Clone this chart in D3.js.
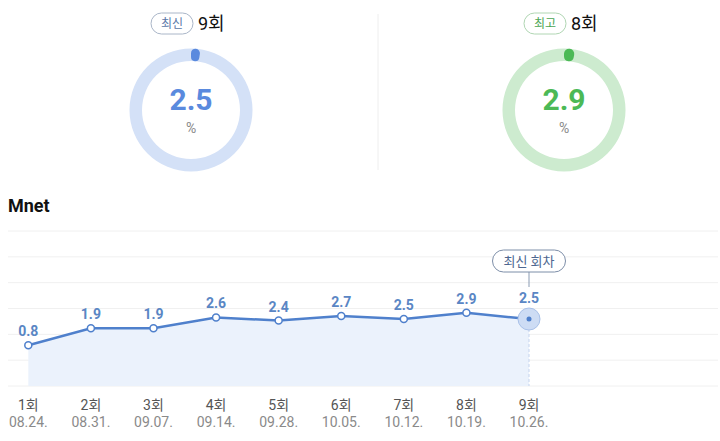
<!DOCTYPE html>
<html>
<head>
<meta charset="utf-8">
<script src="https://cdn.jsdelivr.net/npm/d3@7"></script>
<style>
  body { margin: 0; background: #fff; }
  svg text { font-family: Roboto, "Noto Sans CJK KR", sans-serif; }
</style>
</head>
<body>
<div id="chart"></div>
<script>
// episode data
var episodes = ['1회', '2회', '3회', '4회', '5회', '6회', '7회', '8회', '9회'];
var dates = ['08.24.', '08.31.', '09.07.', '09.14.', '09.28.', '10.05.', '10.12.', '10.19.', '10.26.'];
var ratings = [0.8, 1.9, 1.9, 2.6, 2.4, 2.7, 2.5, 2.9, 2.5];

// summary donuts
var summaryBadges = ['최신', '최고'];
var summaryEpisodes = ['9회', '8회'];
var summaryValues = [2.5, 2.9];

const width = 720
const height = 441

var svg = d3.select('#chart').append('svg')
  .attr('width', width)
  .attr('height', height);

// ---------- top donuts ----------
var donutStyles = [
  {cx: 191, track: '#d4e1f7', main: '#5a8ade', badgeText: '#5a78a8', badgeStroke: '#aab6c8'},
  {cx: 564, track: '#cdebcf', main: '#4cb956', badgeText: '#4aa552', badgeStroke: '#b0d6b3'}
];
var donutCy = 110;
var outerR = 61.5, innerR = 49;

var arc = d3.arc()
  .innerRadius(innerR)
  .outerRadius(outerR)
  .cornerRadius(6);

summaryValues.forEach(function(v, i) {
  var st = donutStyles[i];
  var g = svg.append('g').attr('transform', `translate(${st.cx},${donutCy})`);

  g.append('path')
    .attr('d', arc({startAngle: 0, endAngle: 2 * Math.PI}))
    .attr('fill', st.track);

  g.append('path')
    .attr('d', arc({startAngle: 0, endAngle: v / 100 * 2 * Math.PI}))
    .attr('fill', st.main);

  g.append('text')
    .attr('text-anchor', 'middle')
    .attr('y', 0)
    .attr('fill', st.main)
    .style('font-size', '30px')
    .style('font-weight', 'bold')
    .text(v);

  g.append('text')
    .attr('text-anchor', 'middle')
    .attr('y', 23)
    .attr('fill', '#888')
    .style('font-size', '14px')
    .text('%');

  // badge + episode
  var bw = 42, bh = 21;
  var bx = st.cx - 40, by = 13;
  svg.append('rect')
    .attr('x', bx).attr('y', by)
    .attr('width', bw).attr('height', bh)
    .attr('rx', 10.5)
    .attr('fill', '#fff')
    .attr('stroke', st.badgeStroke);
  svg.append('text')
    .attr('x', bx + bw / 2).attr('y', by + 15)
    .attr('text-anchor', 'middle')
    .attr('fill', st.badgeText)
    .style('font-size', '12px')
    .text(summaryBadges[i]);
  svg.append('text')
    .attr('x', bx + bw + 5).attr('y', 30)
    .attr('fill', '#111')
    .style('font-size', '18px')
    .text(summaryEpisodes[i]);
});

// divider
svg.append('line')
  .attr('x1', 378).attr('x2', 378)
  .attr('y1', 14).attr('y2', 170)
  .attr('stroke', '#eeeeee');

// ---------- line chart ----------
svg.append('text')
  .attr('x', 8).attr('y', 212)
  .attr('fill', '#111')
  .style('font-size', '18px')
  .style('font-weight', 'bold')
  .text('Mnet');

var x = d3.scalePoint()
  .domain(episodes)
  .range([28.3, 529]);

var y = d3.scaleLinear()
  .domain([-1.83, 8.19])
  .range([386, 231]);

// gridlines
var gridY = d3.range(7).map(function(i) { return 231 + i * (386 - 231) / 6; });
svg.append('g').selectAll('line')
  .data(gridY)
  .enter().append('line')
  .attr('x1', 8).attr('x2', 718)
  .attr('y1', function(d) { return d; })
  .attr('y2', function(d) { return d; })
  .attr('stroke', '#f0f0f0');

var series = ratings.map(function(v, i) { return {ep: episodes[i], date: dates[i], v: v}; });

// area
var area = d3.area()
  .x(function(d) { return x(d.ep); })
  .y0(386)
  .y1(function(d) { return y(d.v); });

svg.append('path')
  .datum(series)
  .attr('d', area)
  .attr('fill', '#ebf2fc');

// dashed line under latest point
var last = series[series.length - 1];
svg.append('line')
  .attr('x1', x(last.ep)).attr('x2', x(last.ep))
  .attr('y1', y(last.v)).attr('y2', 386)
  .attr('stroke', '#c4d4ee')
  .attr('stroke-dasharray', '3,2');

var line = d3.line()
  .x(function(d) { return x(d.ep); })
  .y(function(d) { return y(d.v); });

svg.append('path')
  .datum(series)
  .attr('d', line)
  .attr('fill', 'none')
  .attr('stroke', '#4f80cc')
  .attr('stroke-width', 2.5);

// points
svg.append('g').selectAll('circle')
  .data(series.slice(0, -1))
  .enter().append('circle')
  .attr('cx', function(d) { return x(d.ep); })
  .attr('cy', function(d) { return y(d.v); })
  .attr('r', 3.5)
  .attr('fill', '#fff')
  .attr('stroke', '#4f80cc')
  .attr('stroke-width', 1.5);

// latest point highlight
svg.append('circle')
  .attr('cx', x(last.ep)).attr('cy', y(last.v))
  .attr('r', 11)
  .attr('fill', '#cddcf4')
  .attr('stroke', '#a9c1e8')
  .attr('stroke-width', 1);
svg.append('circle')
  .attr('cx', x(last.ep)).attr('cy', y(last.v))
  .attr('r', 2.5)
  .attr('fill', '#4f80cc');

// value labels
svg.append('g').selectAll('text')
  .data(series)
  .enter().append('text')
  .attr('x', function(d) { return x(d.ep); })
  .attr('y', function(d, i) { return y(d.v) - (i === series.length - 1 ? 16 : 9); })
  .attr('text-anchor', 'middle')
  .attr('fill', '#5a86c4')
  .style('font-size', '14px')
  .style('font-weight', 'bold')
  .text(function(d) { return d.v; });

// latest tooltip
var tipW = 73, tipH = 22;
var tipX = x(last.ep) - 36.5, tipY = 250;
svg.append('line')
  .attr('x1', x(last.ep)).attr('x2', x(last.ep))
  .attr('y1', tipY + tipH).attr('y2', 287)
  .attr('stroke', '#8a9bb3');
svg.append('rect')
  .attr('x', tipX).attr('y', tipY)
  .attr('width', tipW).attr('height', tipH)
  .attr('rx', 11)
  .attr('fill', '#fff')
  .attr('stroke', '#7d8ea8');
svg.append('text')
  .attr('x', x(last.ep)).attr('y', tipY + 15.5)
  .attr('text-anchor', 'middle')
  .attr('fill', '#4d6790')
  .style('font-size', '13px')
  .text('최신 회차');

// x labels
var xl = svg.append('g').selectAll('g')
  .data(series)
  .enter().append('g')
  .attr('transform', function(d) { return `translate(${x(d.ep)},0)`; });
xl.append('text')
  .attr('y', 410)
  .attr('text-anchor', 'middle')
  .attr('fill', '#555')
  .style('font-size', '14px')
  .text(function(d) { return d.ep; });
xl.append('text')
  .attr('y', 427)
  .attr('text-anchor', 'middle')
  .attr('fill', '#8a8a8a')
  .style('font-size', '14px')
  .text(function(d) { return d.date; });
</script>
</body>
</html>
